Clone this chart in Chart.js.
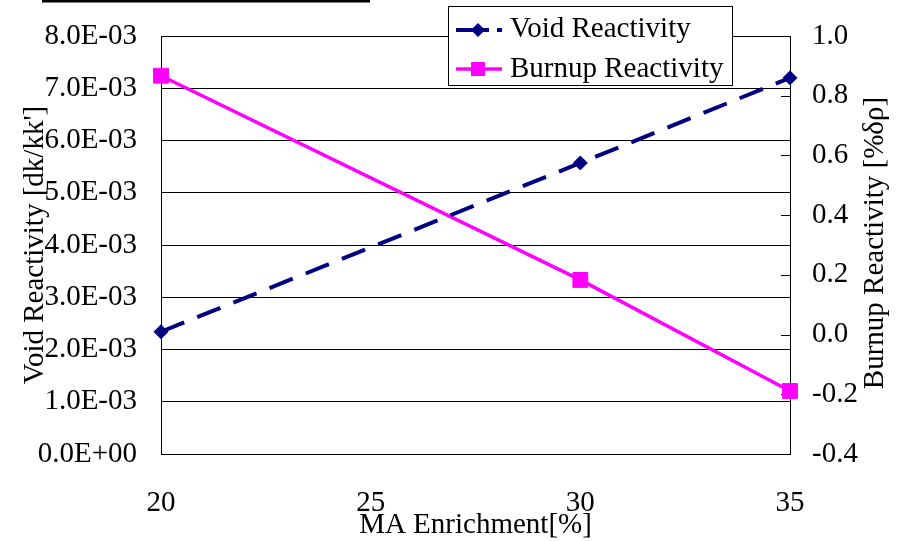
<!DOCTYPE html>
<html>
<head>
<meta charset="utf-8">
<script src="https://cdn.jsdelivr.net/npm/chart.js@4/dist/chart.umd.min.js"></script>
<style>
  html, body { margin: 0; padding: 0; background: #fff; }
  #wrap { width: 897px; height: 541px; }
</style>
</head>
<body>
<div id="wrap"><canvas id="c" width="897" height="541"></canvas></div>
<script>
// MA enrichment (%) on the x axis
const enrichment = [20, 30, 35];
// Void reactivity [dk/kk'] (left axis)
const voidReactivity = [2.34e-3, 5.57e-3, 7.20e-3];
// Burnup reactivity [%δρ] (right axis)
const burnupReactivity = [0.867, 0.183, -0.189];

const xTicks = [20, 25, 30, 35];
const leftTickLabels = ['0.0E+00', '1.0E-03', '2.0E-03', '3.0E-03', '4.0E-03',
                        '5.0E-03', '6.0E-03', '7.0E-03', '8.0E-03'];
const rightTickLabels = ['-0.4', '-0.2', '0.0', '0.2', '0.4', '0.6', '0.8', '1.0'];

const seriesNames = ['Void Reactivity', 'Burnup Reactivity'];
const xTitle = 'MA Enrichment[%]';
const leftTitle = "Void Reactivity [dk/kk']";
const rightTitle = 'Burnup Reactivity [%δρ]';

const FONT = '"Liberation Serif", "Times New Roman", serif';
const FS = 29;
const NAVY = '#000080';
const MAGENTA = '#FF00FF';

// Titles, inward right-axis ticks, legend and header rule
const decorations = {
  id: 'decorations',
  beforeDatasetsDraw(chart) {
    const ctx = chart.ctx;
    const yr = chart.scales.yR;
    ctx.save();
    ctx.strokeStyle = '#000';
    ctx.lineWidth = 1;
    yr.ticks.forEach(t => {
      const py = Math.round(yr.getPixelForValue(t.value)) + 0.5;
      ctx.beginPath();
      ctx.moveTo(yr.left - 9, py);
      ctx.lineTo(yr.left, py);
      ctx.stroke();
    });
    ctx.restore();
  },
  afterDraw(chart) {
    const ctx = chart.ctx;
    const a = chart.chartArea;
    const cy = (a.top + a.bottom) / 2;
    ctx.save();
    ctx.fillStyle = '#000';
    ctx.font = FS + 'px ' + FONT;

    // header rule
    ctx.fillRect(42, 0, 328, 2.5);

    // axis titles
    ctx.textAlign = 'center';
    ctx.textBaseline = 'alphabetic';
    ctx.fillText(xTitle, (a.left + a.right) / 2, 533);

    ctx.save();
    ctx.translate(42.5, cy);
    ctx.rotate(-Math.PI / 2);
    ctx.fillText(leftTitle, 0, 0);
    ctx.restore();

    ctx.save();
    ctx.translate(883, cy - 2);
    ctx.rotate(-Math.PI / 2);
    ctx.fillText(rightTitle, 0, 0);
    ctx.restore();

    // legend
    const bx = 448, by = 6, bw = 284, bh = 79;
    ctx.fillStyle = '#fff';
    ctx.fillRect(bx, by, bw, bh);
    ctx.strokeStyle = '#000';
    ctx.lineWidth = 1;
    ctx.strokeRect(bx + 0.5, by + 0.5, bw, bh);

    const rows = [30, 69];
    const ds = chart.data.datasets;
    // row 1: dashed navy with diamond
    ctx.strokeStyle = ds[0].borderColor;
    ctx.lineWidth = ds[0].borderWidth;
    ctx.beginPath();
    ctx.moveTo(456, rows[0]); ctx.lineTo(489, rows[0]);
    ctx.moveTo(497, rows[0]); ctx.lineTo(502, rows[0]);
    ctx.stroke();
    ctx.fillStyle = ds[0].pointBackgroundColor;
    ctx.beginPath();
    const r0 = ds[0].pointRadius;
    ctx.moveTo(478, rows[0] - r0); ctx.lineTo(478 + r0, rows[0]);
    ctx.lineTo(478, rows[0] + r0); ctx.lineTo(478 - r0, rows[0]);
    ctx.closePath(); ctx.fill();
    // row 2: solid magenta with square
    ctx.strokeStyle = ds[1].borderColor;
    ctx.lineWidth = ds[1].borderWidth;
    ctx.beginPath();
    ctx.moveTo(456, rows[1]); ctx.lineTo(502, rows[1]);
    ctx.stroke();
    ctx.fillStyle = ds[1].pointBackgroundColor;
    ctx.fillRect(471, rows[1] - 7, 14, 14);

    ctx.fillStyle = '#000';
    ctx.textAlign = 'left';
    ctx.fillText(seriesNames[0], 510, 37);
    ctx.fillText(seriesNames[1], 510, 77);
    ctx.restore();
  }
};

// vertical scales: fixed width, no extra edge padding for half-height labels
const fixVertical = (w) => (s) => { s.width = w; s.paddingTop = 0; s.paddingBottom = 0; };

new Chart(document.getElementById('c'), {
  type: 'line',
  data: {
    datasets: [
      {
        label: seriesNames[0],
        data: enrichment.map((x, i) => ({ x, y: voidReactivity[i] })),
        yAxisID: 'yL',
        borderColor: NAVY,
        backgroundColor: NAVY,
        borderWidth: 4,
        borderDash: [25, 14],
        borderCapStyle: 'butt',
        pointStyle: 'rectRot',
        pointRadius: 7,
        pointBackgroundColor: NAVY,
        pointBorderColor: NAVY,
        pointBorderWidth: 1,
        tension: 0,
        clip: false
      },
      {
        label: seriesNames[1],
        data: enrichment.map((x, i) => ({ x, y: burnupReactivity[i] })),
        yAxisID: 'yR',
        borderColor: MAGENTA,
        backgroundColor: MAGENTA,
        borderWidth: 3.5,
        pointStyle: 'rect',
        pointRadius: 10.5,
        pointBackgroundColor: MAGENTA,
        pointBorderColor: MAGENTA,
        pointBorderWidth: 1,
        tension: 0,
        clip: false
      }
    ]
  },
  options: {
    responsive: false,
    animation: false,
    devicePixelRatio: 1,
    layout: { padding: { top: 36, left: 0, right: 0, bottom: 0 } },
    plugins: { legend: { display: false }, tooltip: { enabled: false }, title: { display: false } },
    scales: {
      x: {
        type: 'linear',
        position: 'bottom',
        min: xTicks[0],
        max: xTicks[xTicks.length - 1],
        afterBuildTicks: s => { s.ticks = xTicks.map(v => ({ value: v })); },
        afterFit: s => { s.height = 87; s.paddingLeft = 0; s.paddingRight = 0; },
        grid: { display: false, drawTicks: false },
        border: { display: true, color: '#000', width: 1 },
        ticks: { color: '#000', font: { family: FONT, size: FS }, padding: 32, maxRotation: 0,
                 callback: (v) => String(v) }
      },
      yL: {
        type: 'linear',
        position: 'left',
        min: 0,
        max: 0.008,
        afterBuildTicks: s => { s.ticks = leftTickLabels.map((_, i) => ({ value: i * 0.001 })); },
        afterFit: fixVertical(161),
        grid: { display: true, color: '#000', lineWidth: 1, drawTicks: false },
        border: { display: true, color: '#000', width: 1 },
        ticks: { color: '#000', font: { family: FONT, size: FS }, padding: 24,
                 callback: (v, i) => leftTickLabels[i] }
      },
      yR: {
        type: 'linear',
        position: 'right',
        min: -0.4,
        max: 1.0,
        afterBuildTicks: s => { s.ticks = rightTickLabels.map(l => ({ value: parseFloat(l) })); },
        afterFit: fixVertical(107),
        grid: { display: false, drawTicks: false },
        border: { display: true, color: '#000', width: 1 },
        ticks: { color: '#000', font: { family: FONT, size: FS }, padding: 22,
                 callback: (v, i) => rightTickLabels[i] }
      }
    }
  },
  plugins: [decorations]
});
</script>
</body>
</html>
